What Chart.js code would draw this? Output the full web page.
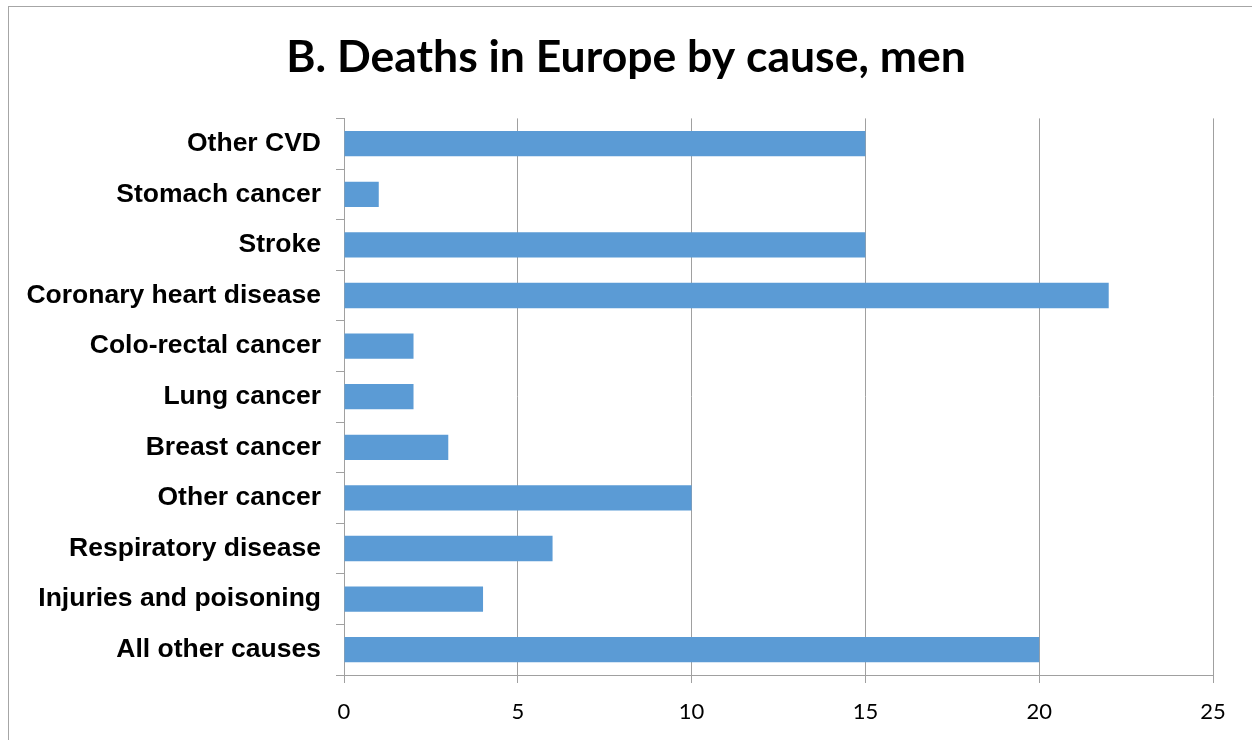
<!DOCTYPE html>
<html>
<head>
<meta charset="utf-8">
<script src="https://cdn.jsdelivr.net/npm/chart.js@4/dist/chart.umd.min.js"></script>
<style>
  html, body { margin: 0; padding: 0; background: #ffffff; }
  #wrap { position: relative; width: 1252px; height: 740px; }
  #frame { position: absolute; left: 8px; top: 6px; width: 1260px; height: 760px;
           border: 1px solid #a6a6a6; box-sizing: border-box; pointer-events: none; }
  canvas { position: absolute; left: 0; top: 0; }
</style>
</head>
<body>
<div id="wrap">
  <canvas id="chart" width="1252" height="740"></canvas>
  <div id="frame"></div>
</div>
<script>
const categories = [
  'Other CVD',
  'Stomach cancer',
  'Stroke',
  'Coronary heart disease',
  'Colo-rectal cancer',
  'Lung cancer',
  'Breast cancer',
  'Other cancer',
  'Respiratory disease',
  'Injuries and poisoning',
  'All other causes'
];
const deaths = [15, 1, 15, 22, 2, 2, 3, 10, 6, 4, 20];
const xTicks = [0, 5, 10, 15, 20, 25];
const titleText = 'B. Deaths in Europe by cause, men';

const axisGray = '#a0a0a0';

new Chart(document.getElementById('chart'), {
  type: 'bar',
  data: {
    labels: categories,
    datasets: [{
      data: deaths,
      backgroundColor: '#5b9bd5',
      borderWidth: 0,
      barPercentage: 1.0,
      categoryPercentage: 0.5
    }]
  },
  options: {
    indexAxis: 'y',
    responsive: false,
    animation: false,
    layout: { padding: 0 },
    plugins: {
      legend: { display: false },
      tooltip: { enabled: false },
      title: {
        display: true,
        text: titleText,
        color: '#000000',
        font: { family: 'Lato', size: 44.5, weight: 'bold' },
        padding: { top: 31, bottom: 34 }
      }
    },
    scales: {
      x: {
        min: 0,
        max: 25,
        afterBuildTicks: (scale) => { scale.ticks = xTicks.map(v => ({ value: v })); },
        afterFit: (scale) => { scale.height = 65; },
        grid: {
          color: axisGray,
          lineWidth: 1,
          drawTicks: true,
          tickLength: 8,
          tickColor: axisGray
        },
        border: { color: axisGray, width: 1 },
        ticks: {
          color: '#000000',
          padding: 16,
          font: { family: 'Lato', size: 22 }
        }
      },
      y: {
        afterFit: (scale) => { scale.width = 344; },
        grid: {
          drawOnChartArea: false,
          drawTicks: true,
          tickLength: 8,
          tickColor: axisGray,
          offset: true
        },
        border: { color: axisGray, width: 1 },
        ticks: {
          color: '#000000',
          padding: 15,
          font: { family: 'Liberation Sans', size: 26.5, weight: 'bold' }
        }
      },
      // empty margin on the right of the plot
      yRight: {
        type: 'category',
        position: 'right',
        afterFit: (scale) => { scale.width = 39; },
        grid: { display: false, drawTicks: false },
        border: { display: false },
        ticks: { display: false }
      }
    }
  }
});
</script>
</body>
</html>
